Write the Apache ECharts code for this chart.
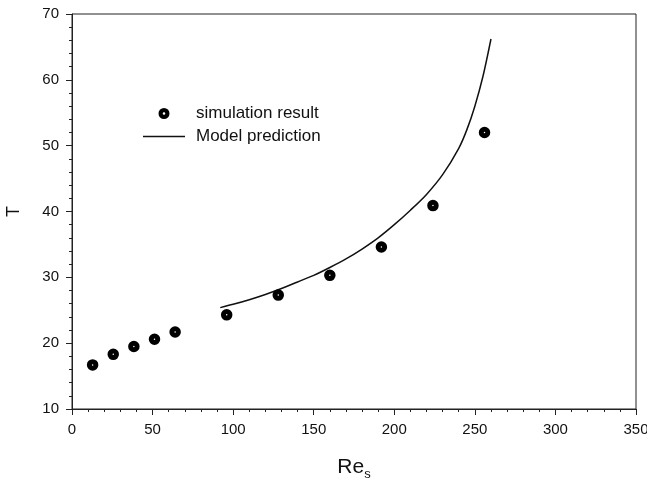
<!DOCTYPE html>
<html>
<head>
<meta charset="utf-8">
<script src="https://cdn.jsdelivr.net/npm/echarts@6/dist/echarts.min.js"></script>
<style>html,body{margin:0;padding:0;background:#fff}#c{width:647px;height:479px}</style>
</head>
<body>
<div id="c"></div>
<script>
// Simulation result points
var simRe = [12.8, 25.6, 38.4, 51.2, 64, 96, 128, 160, 192, 224, 256];
var simT  = [16.7, 18.3, 19.5, 20.6, 21.7, 24.3, 27.3, 30.3, 34.6, 40.9, 52.0];
// Model prediction curve
var modelRe = [92, 100, 110, 120, 130, 140, 150, 160, 170, 180, 190, 200, 210, 220, 230, 240, 245, 250, 255, 260];
var modelT  = [25.4, 25.9, 26.6, 27.4, 28.3, 29.3, 30.3, 31.5, 32.8, 34.3, 36.0, 38.0, 40.2, 42.6, 45.6, 49.6, 52.4, 56.0, 60.5, 66.2];
var xTicks = [0, 50, 100, 150, 200, 250, 300, 350];
var yTicks = [10, 20, 30, 40, 50, 60, 70];

function pairs(a, b) { return a.map(function (v, i) { return [v, b[i]]; }); }

var FONT = 'Liberation Sans, Arial, sans-serif';
var RING = 'path://M0,5.5A5.5,5.5 0 1,1 11,5.5A5.5,5.5 0 1,1 0,5.5ZM4.2,5.5A1.3,1.3 0 1,0 6.8,5.5A1.3,1.3 0 1,0 4.2,5.5Z';
var chart = echarts.init(document.getElementById('c'), null, {renderer: 'canvas'});
chart.setOption({
  animation: false,
  backgroundColor: '#fff',
  textStyle: {fontFamily: FONT},
  grid: {left: 72, right: 11, top: 14, bottom: 70, outerBoundsMode: 'none', containLabel: false,
         show: true, borderColor: '#222', borderWidth: 1, backgroundColor: 'transparent'},
  legend: {
    orient: 'vertical', left: 138, top: 100, itemGap: 6, itemWidth: 42, itemHeight: 11,
    textStyle: {fontFamily: FONT, fontSize: 17, color: '#111', padding: [0, 0, 0, 6]},
    data: [
      {name: 'simulation result', icon: RING, itemStyle: {color: '#000', borderColor: '#000', borderWidth: 0}},
      {name: 'Model prediction', icon: 'path://M0,0L42,0L42,1.4L0,1.4Z', itemStyle: {color: '#111', borderWidth: 0}}
    ]
  },
  xAxis: {
    type: 'value', min: xTicks[0], max: xTicks[xTicks.length - 1], interval: 50,
    name: '{a|Re}{b|s}', nameLocation: 'middle', nameGap: 44,
    nameTextStyle: {rich: {
      a: {fontSize: 21, fontFamily: FONT, color: '#111', lineHeight: 28, verticalAlign: 'middle'},
      b: {fontSize: 13, fontFamily: FONT, color: '#111', lineHeight: 28, verticalAlign: 'bottom', padding: [10, 0, 0, 0]}
    }},
    axisLine: {show: true, lineStyle: {color: '#222', width: 1}},
    axisTick: {show: true, length: 6, lineStyle: {color: '#222'}},
    minorTick: {show: true, splitNumber: 5, length: 3, lineStyle: {color: '#222'}},
    splitLine: {show: false},
    axisLabel: {fontSize: 15, color: '#111', margin: 13, fontFamily: FONT}
  },
  yAxis: {
    type: 'value', min: yTicks[0], max: yTicks[yTicks.length - 1], interval: 10,
    name: 'T', nameLocation: 'middle', nameGap: 49, nameRotate: 90,
    nameTextStyle: {fontSize: 18, color: '#111', fontFamily: FONT},
    axisLine: {show: true, lineStyle: {color: '#222', width: 1}},
    axisTick: {show: true, length: 6, lineStyle: {color: '#222'}},
    minorTick: {show: true, splitNumber: 5, length: 3, lineStyle: {color: '#222'}},
    splitLine: {show: false},
    axisLabel: {fontSize: 15, color: '#111', margin: 13, fontFamily: FONT}
  },
  series: [
    {
      name: 'simulation result', type: 'scatter', data: pairs(simRe, simT),
      symbol: 'circle', symbolSize: 6.5,
      itemStyle: {color: '#fff', borderColor: '#000', borderWidth: 5, opacity: 1},
      z: 3
    },
    {
      name: 'Model prediction', type: 'line', data: pairs(modelRe, modelT),
      smooth: 0.3, symbol: 'none', showSymbol: false,
      lineStyle: {color: '#111', width: 1.5},
      itemStyle: {color: '#111'}
    }
  ]
});
</script>
</body>
</html>
